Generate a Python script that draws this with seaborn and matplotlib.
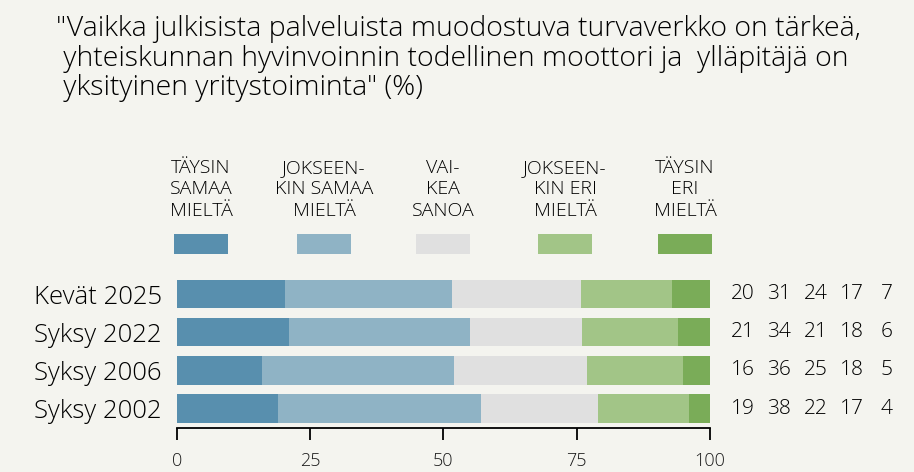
import numpy as np
import pandas as pd
import matplotlib.pyplot as plt
import seaborn as sns
from matplotlib.patches import Rectangle
from matplotlib.transforms import blended_transform_factory

# Data
rows = ["Kevät 2025", "Syksy 2022", "Syksy 2006", "Syksy 2002"]
categories = ["TÄYSIN\nSAMAA\nMIELTÄ", "JOKSEEN-\nKIN SAMAA\nMIELTÄ", "VAI-\nKEA\nSANOA",
              "JOKSEEN-\nKIN ERI\nMIELTÄ", "TÄYSIN\nERI\nMIELTÄ"]
taysin_samaa = [20, 21, 16, 19]
jokseenkin_samaa = [31, 34, 36, 38]
vaikea_sanoa = [24, 21, 25, 22]
jokseenkin_eri = [17, 18, 18, 17]
taysin_eri = [7, 6, 5, 4]
colors = ["#588fae", "#8fb3c5", "#e0e0e0", "#a2c587", "#7aac58"]
bg = "#f4f4ef"

df = pd.DataFrame({
    categories[0]: taysin_samaa,
    categories[1]: jokseenkin_samaa,
    categories[2]: vaikea_sanoa,
    categories[3]: jokseenkin_eri,
    categories[4]: taysin_eri,
}, index=rows)
share = df.div(df.sum(axis=1), axis=0) * 100
cum = share.cumsum(axis=1)

sns.set_theme(style="ticks")
plt.rcParams['font.family'] = ['Open Sans', 'DejaVu Sans']
plt.rcParams['font.weight'] = 'light'
txt = "#000000"

fig = plt.figure(figsize=(9.14, 4.72), dpi=100, facecolor=bg)
ax = fig.add_axes([177 / 914, 1 - 428 / 472, 533 / 914, 153 / 472], facecolor=bg)

# stacked bars: draw cumulative totals from widest to narrowest
for col, color in reversed(list(zip(cum.columns, colors))):
    sns.barplot(x=cum[col].values, y=rows, orient="h", color=color, saturation=1,
                width=0.74, linewidth=0, ax=ax)

ax.set_xlim(0, 100)
ax.set_ylim(3.51, -0.5)
ax.set_xticks([0, 25, 50, 75, 100])
ax.set_xlabel("")
ax.set_ylabel("")
for s in ["top", "right", "left"]:
    ax.spines[s].set_visible(False)
ax.spines["bottom"].set_color("black")
ax.spines["bottom"].set_linewidth(1.3)
ax.tick_params(axis="x", bottom=True, direction="out", length=8.5, width=1.3, color="black",
               labelsize=13, labelcolor="#1a1a1a", pad=9)
ax.tick_params(axis="y", left=False, length=0, labelsize=18.5, labelcolor=txt, pad=11)

# numbers on the right
trans = blended_transform_factory(ax.transAxes, ax.transData)
num_x = [1.062, 1.129, 1.198, 1.266, 1.332]
for i, row in enumerate(rows):
    for j, col in enumerate(df.columns):
        ax.text(num_x[j], i, str(df.loc[row, col]), transform=trans, ha="center", va="center",
                fontsize=15, color=txt)

# legend
leg_x = [201, 324, 443, 565, 685]
for lx, lab, color in zip(leg_x, categories, colors):
    fig.text(lx / 914, 1 - 159 / 472, lab, ha="center", va="top", fontsize=14,
             color=txt, linespacing=1.24)
    fig.add_artist(Rectangle(((lx - 27) / 914, 1 - 254 / 472), 54 / 914, 20 / 472,
                             transform=fig.transFigure, color=color, lw=0))

title = ('"Vaikka julkisista palveluista muodostuva turvaverkko on tärkeä,\n'
         ' yhteiskunnan hyvinvoinnin todellinen moottori ja  ylläpitäjä on\n'
         ' yksityinen yritystoiminta" (%)')
fig.text(56 / 914, 1 - 15 / 472, title, ha="left", va="top", fontsize=20.5,
         color=txt, linespacing=1.08)

fig.savefig("out.png", dpi=100, facecolor=bg)
